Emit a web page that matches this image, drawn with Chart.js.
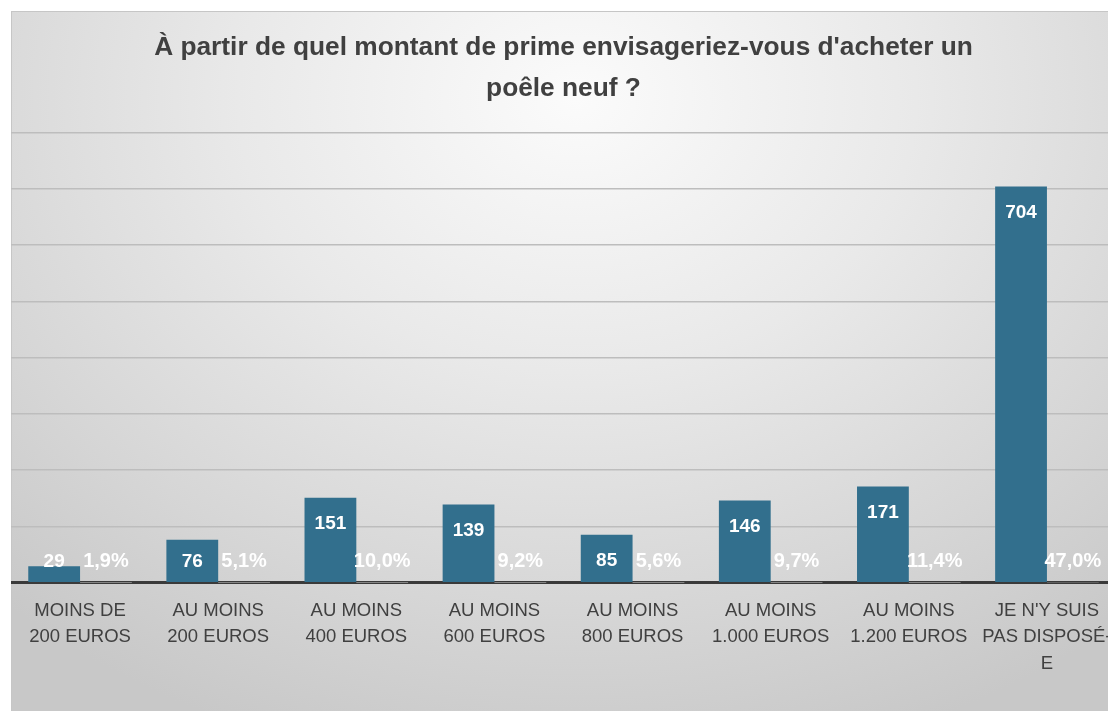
<!DOCTYPE html>
<html lang="fr">
<head>
<meta charset="utf-8">
<title>Montant de prime</title>
<script src="https://cdn.jsdelivr.net/npm/chart.js@4.4.1/dist/chart.umd.min.js"></script>
<style>
    html, body {
        margin: 0;
        padding: 0;
        width: 1108px;
        height: 711px;
        overflow: hidden;
        background: #ffffff;
    }
    .frame {
        position: absolute;
        left: 11px;
        top: 11px;
        width: 1130px;
        height: 720px;
        border-top: 1px solid #c6c6c6;
        border-left: 1px solid #c6c6c6;
        background: radial-gradient(ellipse 75% 95% at 50% 12%, #fbfbfb 0%, #e9e9e9 40%, #d6d6d6 75%, #c8c8c8 100%);
    }
    canvas {
        position: absolute;
        left: -1px;
        top: -1px;
    }
</style>
</head>
<body>
<div class="frame">
    <canvas id="primeChart" width="1120" height="700"></canvas>
</div>
<script>
const categories = [
    ["MOINS DE", "200 EUROS"],
    ["AU MOINS", "200 EUROS"],
    ["AU MOINS", "400 EUROS"],
    ["AU MOINS", "600 EUROS"],
    ["AU MOINS", "800 EUROS"],
    ["AU MOINS", "1.000 EUROS"],
    ["AU MOINS", "1.200 EUROS"],
    ["JE N'Y SUIS", "PAS DISPOSÉ-", "E"]
];
const counts = [29, 76, 151, 139, 85, 146, 171, 704];
const shares = [0.019, 0.051, 0.100, 0.092, 0.056, 0.097, 0.114, 0.470];
const yTicks = [0, 100, 200, 300, 400, 500, 600, 700, 800];

const barBlue = "rgb(50, 111, 141)";
const textGrey = "#404040";

// white value labels: counts just inside the bar top, shares at the base
const valueLabels = {
    id: "valueLabels",
    afterDraw(chart) {
        const c = chart.ctx;
        const base = chart.scales.y.getPixelForValue(0);
        c.save();
        c.fillStyle = "#ffffff";
        c.textAlign = "center";
        c.textBaseline = "middle";
        c.font = "bold 19px 'Liberation Sans', Arial, sans-serif";
        chart.getDatasetMeta(0).data.forEach((bar, i) => {
            const y = Math.min(bar.y + 26, base - 21);
            c.fillText(String(counts[i]), bar.x, y);
        });
        c.font = "bold 20px 'Liberation Sans', Arial, sans-serif";
        chart.getDatasetMeta(1).data.forEach((bar, i) => {
            const txt = (shares[i] * 100).toFixed(1).replace(".", ",") + "%";
            c.fillText(txt, bar.x, base - 21);
        });
        c.restore();
    }
};

const ctx = document.getElementById("primeChart").getContext("2d");
const primeChart = new Chart(ctx, {
    type: "bar",
    data: {
        labels: categories,
        datasets: [{
            label: "Nombre",
            data: counts,
            backgroundColor: barBlue,
            borderWidth: 0,
            categoryPercentage: 0.75,
            barPercentage: 1.0,
        }, {
            label: "Part",
            data: shares,
            backgroundColor: "#ffffff",
            borderWidth: 0,
            categoryPercentage: 0.75,
            barPercentage: 1.0,
        }],
    },
    options: {
        responsive: false,
        animation: false,
        devicePixelRatio: 1,
        layout: {
            padding: { left: 0, right: 15, top: 0, bottom: 27 },
        },
        plugins: {
            legend: { display: false },
            tooltip: { enabled: false },
            title: {
                display: true,
                text: ["À partir de quel montant de prime envisageriez-vous d'acheter un", "poêle neuf ?"],
                color: textGrey,
                font: { family: "'Liberation Sans', Arial, sans-serif", size: 26.3, weight: "bold", lineHeight: 1.53 },
                padding: { top: 17, bottom: 24 },
            },
        },
        scales: {
            x: {
                z: 1,
                grid: { display: false },
                border: { display: true, color: "#3a3a3a", width: 3 },
                ticks: {
                    color: textGrey,
                    font: { family: "'Liberation Sans', Arial, sans-serif", size: 18.5, lineHeight: 1.43 },
                    padding: 7,
                    maxRotation: 0,
                    autoSkip: false,
                },
            },
            y: {
                min: yTicks[0],
                max: yTicks[yTicks.length - 1],
                afterBuildTicks(axis) {
                    axis.ticks = yTicks.map(v => ({ value: v }));
                },
                ticks: { display: false },
                grid: { color: "#bdbdbd", lineWidth: 1.5, drawTicks: false },
                border: { display: false },
            },
        },
    },
    plugins: [valueLabels],
});
</script>
</body>
</html>
